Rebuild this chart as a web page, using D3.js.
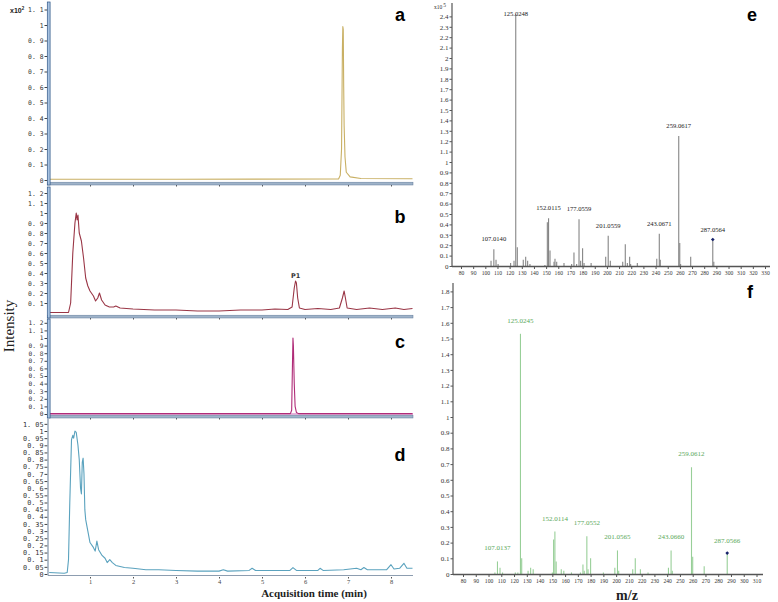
<!DOCTYPE html>
<html>
<head>
<meta charset="utf-8">
<script src="https://cdn.jsdelivr.net/npm/d3@7"></script>
<style>
  body { margin: 0; background: #fff; }
  svg { display: block; }
</style>
</head>
<body>
<svg id="fig" width="778" height="602"></svg>
<script>
// chromatograms: [acquisition time (min), relative intensity]
var traceA = [[0.05,0.005],[3,0.005],[6.78,0.006],[6.82,0.03],[6.85,0.2],[6.87,0.85],[6.88,0.99],[6.89,0.97],
  [6.9,0.6],[6.91,0.35],[6.93,0.15],[6.96,0.05],[7.05,0.02],[7.3,0.01],[8.5,0.008]];

var traceB = [[0.05,0.005],[0.5,0.005],[0.55,0.1],[0.6,0.6],[0.65,0.9],[0.68,1.0],[0.7,0.93],[0.72,0.98],
  [0.75,0.8],[0.8,0.72],[0.85,0.55],[0.9,0.35],[0.95,0.27],[1.0,0.22],[1.08,0.17],[1.13,0.12],[1.18,0.15],
  [1.22,0.2],[1.27,0.13],[1.35,0.08],[1.45,0.06],[1.55,0.06],[1.6,0.07],[1.7,0.05],[2.0,0.04],[2.5,0.03],
  [3.0,0.03],[3.5,0.02],[4.0,0.02],[4.5,0.03],[5.0,0.03],[5.3,0.04],[5.6,0.035],[5.7,0.06],[5.75,0.25],
  [5.78,0.32],[5.8,0.3],[5.83,0.15],[5.87,0.05],[6.0,0.035],[6.3,0.045],[6.6,0.035],[6.8,0.05],[6.87,0.15],
  [6.91,0.22],[6.94,0.15],[6.98,0.05],[7.2,0.035],[7.5,0.05],[7.8,0.035],[8.1,0.05],[8.3,0.035],[8.5,0.045]];

var traceC = [[0.05,0.005],[5.66,0.005],[5.69,0.05],[5.71,0.7],[5.72,1.0],[5.73,0.9],[5.75,0.4],[5.77,0.1],
  [5.8,0.02],[5.85,0.005],[8.5,0.005]];

var traceD = [[0.05,0.01],[0.4,0.005],[0.47,0.01],[0.5,0.1],[0.53,0.5],[0.57,0.94],[0.6,0.97],[0.62,0.95],
  [0.65,1.0],[0.68,0.99],[0.72,0.9],[0.75,0.8],[0.78,0.6],[0.8,0.56],[0.82,0.78],[0.84,0.81],[0.86,0.7],
  [0.88,0.45],[0.9,0.38],[0.95,0.3],[1.0,0.22],[1.07,0.19],[1.12,0.16],[1.16,0.23],[1.2,0.17],[1.28,0.13],
  [1.35,0.11],[1.4,0.08],[1.46,0.1],[1.52,0.08],[1.6,0.06],[1.8,0.045],[2.0,0.04],[2.3,0.03],[2.6,0.03],
  [3.0,0.025],[3.5,0.02],[4.0,0.02],[4.1,0.03],[4.2,0.02],[4.7,0.025],[4.77,0.04],[4.85,0.025],[5.3,0.025],
  [5.65,0.025],[5.72,0.045],[5.8,0.025],[6.3,0.025],[6.35,0.04],[6.42,0.025],[6.9,0.03],[7.2,0.04],[7.3,0.03],
  [7.37,0.045],[7.45,0.03],[7.9,0.03],[8.0,0.065],[8.07,0.035],[8.2,0.04],[8.3,0.075],[8.37,0.04],[8.5,0.04]];

var timeTicks = [1, 2, 3, 4, 5, 6, 7, 8];
var ticksA = [0, 0.1, 0.2, 0.3, 0.4, 0.5, 0.6, 0.7, 0.8, 0.9, 1, 1.1];
var ticksB = [0.1, 0.2, 0.3, 0.4, 0.5, 0.6, 0.7, 0.8, 0.9, 1, 1.1, 1.2];
var ticksC = [0, 0.1, 0.2, 0.3, 0.4, 0.5, 0.6, 0.7, 0.8, 0.9, 1, 1.1, 1.2];
var ticksD = [0, 0.05, 0.1, 0.15, 0.2, 0.25, 0.3, 0.35, 0.4, 0.45, 0.5, 0.55, 0.6, 0.65, 0.7, 0.75,
  0.8, 0.85, 0.9, 0.95, 1, 1.05];

// MS/MS spectra (intensity e: x10^5 counts, f: relative)
var eMz = [104.7,107.014,108.8,110.5,120.8,123.6,125.0248,126.3,131.2,133.2,134.8,136.7,149,151,152.0115,153.2,
  156.5,157.3,158.7,164.7,171,172.9,175.1,177.0559,178.4,180,181.2,187,199,201.0559,202.8,213,215.1,216.8,218.7,
  219.5,225,241,243.0671,243.9,259.0617,259.9,260.6,268.9,287.0564,287.9];
var eInt = [0.05,0.16,0.06,0.02,0.03,0.05,2.42,0.18,0.06,0.09,0.05,0.02,0.01,0.42,0.46,0.15,0.04,0.07,0.04,0.03,
  0.02,0.13,0.02,0.45,0.05,0.17,0.03,0.03,0.09,0.29,0.05,0.04,0.21,0.03,0.09,0.02,0.03,0.07,0.31,0.06,1.25,0.22,
  0.02,0.09,0.25,0.04];
var eLabels = ["107.0140","125.0248","152.0115","177.0559","201.0559","243.0671","259.0617","287.0564"];
var eXTicks = [80,90,100,110,120,130,140,150,160,170,180,190,200,210,220,230,240,250,260,270,280,290,300,310,320,330];
var eYTicks = [0,0.1,0.2,0.3,0.4,0.5,0.6,0.7,0.8,0.9,1,1.1,1.2,1.3,1.4,1.5,1.6,1.7,1.8,1.9,2,2.1,2.2,2.3,2.4];

var fMz = [105,107.0137,109,111,121,123,125.0245,126,131,133,135,150,151,152.0114,153,157,159,165,172,174,175,
  177.0552,178,180,190,199,201.0565,202,213,215,219,225,241,243.066,244,259.0612,260,269,287.0566];
var fInt = [0.01,0.08,0.04,0.01,0.01,0.01,1.53,0.1,0.02,0.04,0.03,0.01,0.22,0.27,0.08,0.03,0.02,0.01,0.01,0.06,
  0.02,0.24,0.03,0.1,0.01,0.04,0.15,0.02,0.03,0.1,0.03,0.01,0.04,0.15,0.02,0.68,0.11,0.05,0.13];
var fLabels = ["107.0137","125.0245","152.0114","177.0552","201.0565","243.0660","259.0612","287.0566"];
var fXTicks = [80,90,100,110,120,130,140,150,160,170,180,190,200,210,220,230,240,250,260,270,280,290,300,310];
var fYTicks = [0,0.1,0.2,0.3,0.4,0.5,0.6,0.7,0.8,0.9,1,1.1,1.2,1.3,1.4,1.5,1.6,1.7,1.8];

var svg = d3.select("#fig");
svg.append("rect").attr("width", 778).attr("height", 602).attr("fill", "#fff");

var x = d3.scaleLinear().domain([1, 8]).range([90, 391]);

function leftFmt(v) {
  return String(+v.toFixed(2)).replace(".", ". ");
}

function drawChromatogram(p) {
  var y = d3.scaleLinear().domain([0, 1]).range([p.zero, p.one]);
  var g = svg.append("g");

  var ay = g.append("g")
      .attr("transform", "translate(47.5,0)")
      .call(d3.axisLeft(y).tickValues(p.ticks).tickSize(3).tickPadding(1).tickFormat(leftFmt));
  ay.select(".domain").remove();
  ay.selectAll("line").style("stroke", "#444");
  ay.selectAll("text")
      .style("font-family", "DejaVu Sans Mono")
      .style("font-size", p.font + "px")
      .style("fill", "#333");

  if (p.band) {
    g.append("line")
        .attr("x1", 50).attr("x2", 413)
        .attr("y1", y(0)).attr("y2", y(0))
        .attr("stroke", p.band).attr("stroke-width", 2.2);
  }

  g.append("path")
      .datum(p.trace)
      .attr("d", d3.line().x(function(d) { return x(d[0]); }).y(function(d) { return y(d[1]); }))
      .attr("fill", "none")
      .attr("stroke", p.color)
      .attr("stroke-width", 1.1)
      .attr("stroke-linejoin", "round");

  // x axis ticks
  var ax = g.append("g")
      .attr("transform", "translate(0," + (p.base + 1.5) + ")")
      .call(d3.axisBottom(x).tickValues(timeTicks).tickSize(1.5).tickPadding(0.5)
        .tickFormat(p.labels ? d3.format("d") : ""));
  ax.select(".domain").remove();
  ax.selectAll("line").style("stroke", "#555");
  ax.selectAll("text")
      .style("font-family", "Liberation Serif")
      .style("font-size", "6.5px")
      .style("fill", "#444");

  if (p.thin) {
    g.append("line").attr("x1", 48).attr("x2", 413).attr("y1", p.base).attr("y2", p.base)
        .attr("stroke", "#8d9db0").attr("stroke-width", 1.2);
    g.append("line").attr("x1", 48).attr("x2", 48).attr("y1", p.top).attr("y2", p.base)
        .attr("stroke", "#7f93aa").attr("stroke-width", 1.2);
  } else {
    g.append("rect")
        .attr("x", 47.5).attr("y", p.base - 1.3)
        .attr("width", 413 - 47.5).attr("height", 2.8)
        .attr("fill", "#9fb3c9").attr("stroke", "#5f7a99").attr("stroke-width", 0.5);
    g.append("rect")
        .attr("x", 47.3).attr("y", p.top)
        .attr("width", 2.8).attr("height", p.base - p.top + 1.5)
        .attr("fill", "#a8c2e0").attr("stroke", "#2f5788").attr("stroke-width", 0.7);
  }

  g.append("text")
      .attr("x", 400).attr("y", p.letterY)
      .attr("text-anchor", "middle")
      .style("font-family", "Liberation Sans")
      .style("font-weight", "bold")
      .style("font-size", "18px")
      .text(p.letter);
  return y;
}

var panels = [
  { letter: "a", trace: traceA, ticks: ticksA, color: "#c9b064", zero: 180, one: 25, top: 2, base: 183.5, font: 6.4, letterY: 21 },
  { letter: "b", trace: traceB, ticks: ticksB, color: "#9a3646", zero: 313, one: 213, top: 187, base: 316.5, font: 6.4, letterY: 223 },
  { letter: "c", trace: traceC, ticks: ticksC, color: "#b02c78", band: "#e6b2da", zero: 414, one: 338, top: 319, base: 416.5, font: 6.2, letterY: 348 },
  { letter: "d", trace: traceD, ticks: ticksD, color: "#5aa2be", zero: 574, one: 431, top: 419, base: 575.5, font: 6.8, letterY: 461, thin: true, labels: true }
];

var yB;
panels.forEach(function(p) {
  var yy = drawChromatogram(p);
  if (p.letter == "b") yB = yy;
});

// exponent on the top panel
svg.append("text")
    .attr("x", 10).attr("y", 12.5)
    .style("font-family", "Liberation Sans")
    .style("font-weight", "bold")
    .style("font-size", "7px")
    .style("fill", "#222")
    .text("x10")
    .append("tspan").attr("dy", -3).style("font-size", "4.5px").text("2");

// peak tag in b
svg.append("text")
    .attr("x", x(5.78)).attr("y", yB(0.32) - 3.5)
    .attr("text-anchor", "middle")
    .style("font-family", "DejaVu Sans")
    .style("font-weight", "bold")
    .style("font-size", "6.5px")
    .style("fill", "#333")
    .text("P1");

svg.append("text")
    .attr("transform", "translate(14,326) rotate(-90)")
    .attr("text-anchor", "middle")
    .style("font-family", "Liberation Serif")
    .style("font-size", "15px")
    .style("fill", "#222")
    .text("Intensity");

svg.append("text")
    .attr("x", 314).attr("y", 597)
    .attr("text-anchor", "middle")
    .style("font-family", "Liberation Serif")
    .style("font-weight", "bold")
    .style("font-size", "11px")
    .style("fill", "#222")
    .text("Acquisition time (min)");

function drawSpectrum(s) {
  var xs = d3.scaleLinear().domain([80, s.xLast]).range([s.x80, s.xLastPx]);
  var ys = d3.scaleLinear().domain([0, 1]).range([s.zero, s.one]);
  var g = svg.append("g");

  var ay = g.append("g")
      .attr("transform", "translate(" + s.axisX + ",0)")
      .call(d3.axisLeft(ys).tickValues(s.yTicks).tickSize(2.5).tickPadding(1)
        .tickFormat(function(v) { return String(+v.toFixed(1)); }));
  ay.select(".domain").remove();
  ay.selectAll("line").style("stroke", "#555");
  ay.selectAll("text")
      .style("font-family", "Liberation Serif")
      .style("font-size", "7px")
      .style("fill", "#333");

  var ax = g.append("g")
      .attr("transform", "translate(0," + (s.zero + 1) + ")")
      .call(d3.axisBottom(xs).tickValues(s.xTicks).tickSize(2).tickPadding(2).tickFormat(d3.format("d")));
  ax.select(".domain").remove();
  ax.selectAll("line").style("stroke", "#555");
  ax.selectAll("text")
      .style("font-family", "Liberation Serif")
      .style("font-size", "5.6px")
      .style("fill", "#333");

  g.selectAll("line.peak")
      .data(s.mz)
      .enter().append("line")
      .attr("class", "peak")
      .attr("x1", function(d) { return xs(d); })
      .attr("x2", function(d) { return xs(d); })
      .attr("y1", ys(0))
      .attr("y2", function(d, i) { return ys(s.ints[i]); })
      .attr("stroke", s.color)
      .attr("stroke-width", 1.1);

  g.append("line").attr("x1", s.axisX).attr("x2", s.right).attr("y1", s.zero + 0.5).attr("y2", s.zero + 0.5)
      .attr("stroke", "#555").attr("stroke-width", 1.4);
  g.append("line").attr("x1", s.axisX).attr("x2", s.axisX).attr("y1", s.top).attr("y2", s.zero + 1)
      .attr("stroke", "#555").attr("stroke-width", 1.2);

  function peakOf(label) {
    var m = +label;
    var i = d3.minIndex(s.mz, function(d) { return Math.abs(d - m); });
    return { mz: s.mz[i], v: s.ints[i] };
  }

  g.selectAll("text.lab")
      .data(s.labels)
      .enter().append("text")
      .attr("class", "lab")
      .attr("x", function(d) { return xs(peakOf(d).mz); })
      .attr("y", function(d) { return Math.max(ys(peakOf(d).v) - s.gap, s.minLabelY); })
      .attr("text-anchor", "middle")
      .style("font-family", "Liberation Serif")
      .style("font-size", s.labelFont + "px")
      .style("fill", s.labelColor)
      .text(function(d) { return d; });

  // precursor marker
  var prec = peakOf(s.labels[s.labels.length - 1]);
  g.append("path")
      .attr("d", d3.symbol().type(d3.symbolSquare).size(7))
      .attr("transform", "translate(" + xs(prec.mz) + "," + (ys(prec.v) - 0.5) + ") rotate(45)")
      .attr("fill", "#17226b");

  g.append("text")
      .attr("x", s.letterX).attr("y", s.letterY)
      .attr("text-anchor", "middle")
      .style("font-family", "Liberation Sans")
      .style("font-weight", "bold")
      .style("font-size", "18px")
      .text(s.letter);
}

drawSpectrum({ letter: "e", mz: eMz, ints: eInt, labels: eLabels, xTicks: eXTicks, yTicks: eYTicks,
  xLast: 330, x80: 461, xLastPx: 765, zero: 266, one: 162, axisX: 452, top: 3, right: 770,
  color: "#858585", labelColor: "#222", labelFont: 6.6, gap: 8, minLabelY: 16, letterX: 752, letterY: 21 });

drawSpectrum({ letter: "f", mz: fMz, ints: fInt, labels: fLabels, xTicks: fXTicks, yTicks: fYTicks,
  xLast: 310, x80: 463, xLastPx: 756.5, zero: 574, one: 417, axisX: 453, top: 283, right: 763,
  color: "#98cf98", labelColor: "#5aa85a", labelFont: 7, gap: 11, minLabelY: 0, letterX: 750, letterY: 298 });

svg.append("text")
    .attr("x", 627).attr("y", 600)
    .attr("text-anchor", "middle")
    .style("font-family", "Liberation Serif")
    .style("font-weight", "bold")
    .style("font-size", "14px")
    .style("fill", "#222")
    .text("m/z");

svg.append("text")
    .attr("x", 440).attr("y", 9)
    .attr("text-anchor", "middle")
    .style("font-family", "Liberation Serif")
    .style("font-size", "5.5px")
    .style("fill", "#333")
    .text("x10")
    .append("tspan").attr("dy", -2).attr("dx", 1).text("5");
</script>
</body>
</html>
